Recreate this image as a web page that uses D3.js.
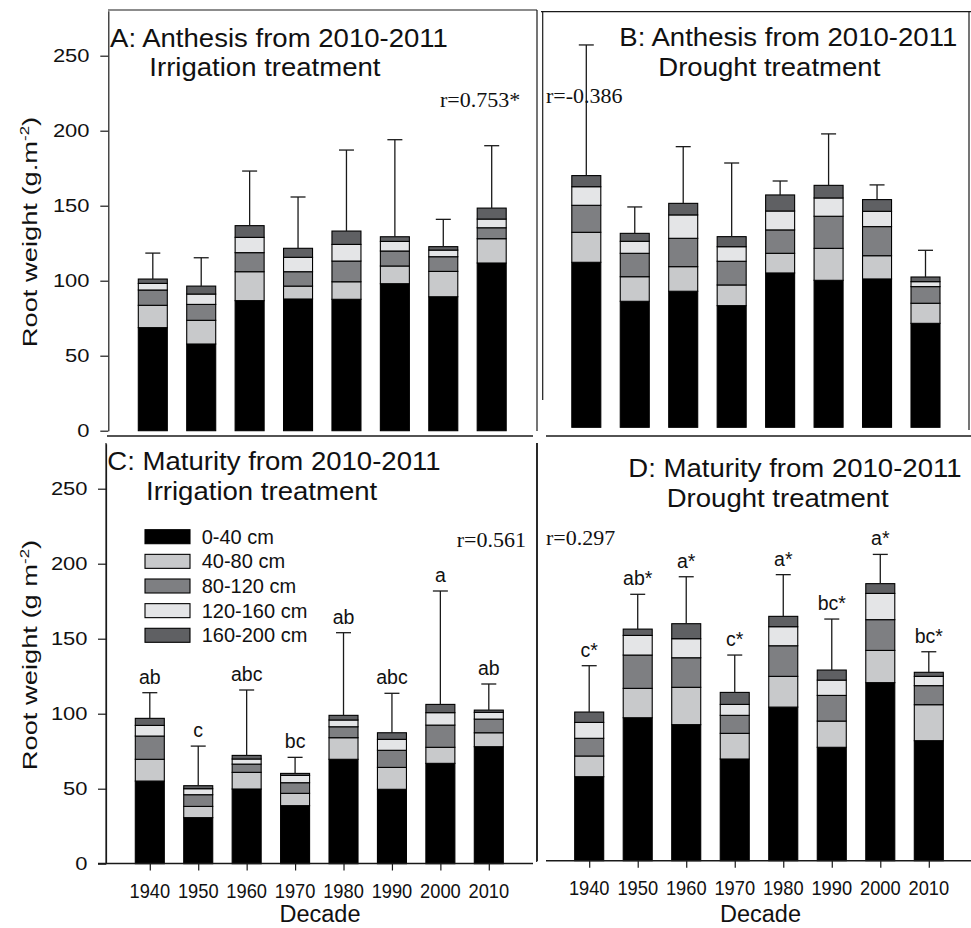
<!DOCTYPE html>
<html>
<head>
<meta charset="utf-8">
<script src="https://cdn.jsdelivr.net/npm/d3@7/dist/d3.min.js"></script>
<style>
  body { margin: 0; background: #ffffff; }
  svg { display: block; }
</style>
</head>
<body>
<svg id="chart" width="971" height="928"></svg>
<script>
// ---- data -------------------------------------------------------------
const decades = ["1940", "1950", "1960", "1970", "1980", "1990", "2000", "2010"];
const depthLayers = ["0-40 cm", "40-80 cm", "80-120 cm", "120-160 cm", "160-200 cm"];
const yTicks = [0, 50, 100, 150, 200, 250];

// Root weight (g m-2) per soil layer, one row per decade (0-40 ... 160-200 cm)
const anthesisIrrigation = [
  [68.7, 14.9, 10.2, 4.4, 2.9],
  [57.8, 15.8, 10.6, 6.9, 5.3],
  [86.7, 19.3, 12.7, 10.2, 7.8],
  [87.8, 8.6, 9.6, 9.6, 6.0],
  [87.6, 11.7, 13.8, 11.1, 8.9],
  [98.0, 11.8, 10.0, 6.4, 3.1],
  [89.3, 16.9, 9.8, 4.4, 2.3],
  [111.8, 16.2, 7.3, 5.8, 7.3]
];
const anthesisIrrigationErr = [17.3, 18.9, 36.4, 34.2, 54.0, 64.7, 18.2, 41.6];

const anthesisDrought = [
  [110.0, 20.0, 18.0, 12.4, 7.4],
  [84.0, 16.4, 15.6, 8.0, 5.3],
  [90.7, 16.4, 18.9, 15.6, 7.7],
  [81.1, 13.8, 15.8, 9.7, 6.7],
  [102.9, 13.1, 15.6, 12.6, 10.7],
  [98.0, 21.3, 21.4, 12.2, 8.4],
  [98.9, 15.5, 19.4, 10.2, 7.8],
  [69.3, 13.4, 11.1, 3.3, 3.1]
];
const anthesisDroughtErr = [87.1, 17.6, 37.8, 49.1, 9.3, 34.3, 9.8, 17.8];

const maturityIrrigation = [
  [55.1, 14.5, 15.5, 7.1, 4.7],
  [30.7, 7.5, 7.8, 4.0, 2.0],
  [49.8, 11.1, 5.5, 3.4, 2.4],
  [38.7, 8.2, 7.1, 4.9, 1.3],
  [69.6, 14.4, 7.3, 4.5, 3.1],
  [49.6, 14.6, 11.4, 7.3, 4.4],
  [66.9, 10.7, 14.8, 8.3, 5.5],
  [78.0, 9.3, 9.1, 4.5, 1.5]
];
const maturityIrrigationErr = [17.1, 26.4, 43.6, 10.7, 55.1, 26.3, 75.6, 17.4];
const maturityIrrigationLetters = ["ab", "c", "abc", "bc", "ab", "abc", "a", "ab"];

const maturityDrought = [
  [56.0, 13.8, 11.8, 10.6, 6.9],
  [95.3, 19.6, 22.2, 13.1, 4.2],
  [90.7, 24.9, 19.7, 12.7, 10.0],
  [67.8, 17.1, 12.0, 7.3, 8.0],
  [102.4, 20.5, 20.4, 12.7, 6.9],
  [75.6, 17.5, 17.1, 10.2, 6.7],
  [118.7, 21.5, 20.5, 17.5, 6.5],
  [80.0, 24.0, 12.7, 6.2, 2.7]
];
const maturityDroughtErr = [30.9, 23.2, 31.3, 24.9, 27.8, 34.0, 19.5, 13.7];
const maturityDroughtLetters = ["c*", "ab*", "a*", "c*", "a*", "bc*", "a*", "bc*"];

// ---- styling ----------------------------------------------------------
const layerFills = ["#000000", "#c8c9cb", "#7e7f82", "#e4e5e7", "#5f6063"];
const SANS = "'Liberation Sans', Arial, Helvetica, sans-serif";
const SERIF = "'Liberation Serif', 'Times New Roman', serif";
const INK = "#111111";
const BAR_W = 29;

const svg = d3.select("#chart");

function drawText(g, x, y, str, o = {}) {
  return g.append("text")
    .attr("transform", `translate(${x},${y}) scale(${o.sx || 1},1)`)
    .attr("text-anchor", o.anchor || "start")
    .style("font-family", o.family || SANS)
    .style("font-size", (o.size || 20) + "px")
    .style("fill", INK)
    .text(str);
}

function line(g, x1, y1, x2, y2, w = 1.2) {
  g.append("line")
    .attr("x1", x1).attr("y1", y1).attr("x2", x2).attr("y2", y2)
    .attr("stroke", "#1a1a1a").attr("stroke-width", w);
}

// Stacked bars with error bars (and optional significance letters)
function drawPanel(p) {
  const g = svg.append("g");
  const x = d3.scalePoint().domain(decades).range(p.xRange);
  const y = d3.scaleLinear().domain([0, 280]).range([p.y0, p.y0 - 420]);
  const stack = d3.stack().keys(d3.range(depthLayers.length));
  const series = stack(p.rows);

  g.selectAll("g.layer").data(series).join("g")
    .attr("class", "layer")
    .attr("fill", (d, i) => layerFills[i])
    .selectAll("rect").data(d => d.map((s, j) => ({ s, j }))).join("rect")
    .attr("x", d => x(decades[d.j]) - BAR_W / 2)
    .attr("width", BAR_W)
    .attr("y", d => y(d.s[1]))
    .attr("height", d => y(d.s[0]) - y(d.s[1]))
    .attr("stroke", "#000").attr("stroke-width", 1.1);

  const totals = p.rows.map(r => d3.sum(r));
  decades.forEach((dec, j) => {
    const cx = x(dec);
    const top = y(totals[j] + p.err[j]);
    line(g, cx, y(totals[j]), cx, top, 1.3);
    line(g, cx - 7.5, top, cx + 7.5, top, 1.3);
    if (p.letters) {
      drawText(g, cx, top - 9, p.letters[j], { anchor: "middle", size: 19.5 });
    }
  });
  return { g, x, y };
}

function drawYAxis(g, y, axisX, labelRight) {
  const ax = g.append("g").attr("transform", `translate(${axisX},0)`)
    .call(d3.axisLeft(y).tickValues(yTicks).tickSize(8).tickSizeOuter(0).tickFormat(""));
  ax.select(".domain").attr("stroke", "#1a1a1a").attr("stroke-width", 1.2);
  ax.selectAll(".tick line").attr("stroke", "#1a1a1a").attr("stroke-width", 1.2);
  yTicks.forEach(v => {
    drawText(g, labelRight, y(v) + 6.3, String(v), { anchor: "end", size: 18, sx: 1.22 });
  });
}

function drawXAxis(g, x, axisY, lineFrom, lineTo, labelY, titleX) {
  line(g, lineFrom, axisY, lineTo, axisY, 1.4);
  const ax = g.append("g").attr("transform", `translate(0,${axisY})`)
    .call(d3.axisBottom(x).tickSize(7).tickSizeOuter(0).tickFormat(""));
  ax.select(".domain").remove();
  ax.selectAll(".tick line").attr("stroke", "#1a1a1a").attr("stroke-width", 1.2);
  decades.forEach(dec => {
    drawText(g, x(dec), labelY, dec, { anchor: "middle", size: 21, sx: 0.87 });
  });
  drawText(g, titleX, 922, "Decade", { anchor: "middle", size: 23.5 });
}

function drawYTitle(cx, cy, dotted) {
  const t = svg.append("text")
    .attr("transform", `translate(${cx},${cy}) rotate(-90) scale(1.3,1)`)
    .attr("text-anchor", "middle")
    .style("font-family", SANS).style("font-size", "21px").style("fill", INK);
  t.append("tspan").text(dotted ? "Root weight (g.m" : "Root weight (g m");
  t.append("tspan").attr("dy", -8).style("font-size", "13px").text("-2");
  t.append("tspan").attr("dy", 8).text(")");
}

// ---- A: anthesis, irrigation -----------------------------------------
const A = drawPanel({ rows: anthesisIrrigation, err: anthesisIrrigationErr,
  xRange: [152.8, 491.7], y0: 430.7 });
drawYAxis(A.g, A.y, 108.3, 89.5);
line(A.g, 108, 10, 537, 10);
line(A.g, 537, 10, 537, 431);
line(A.g, 107, 436, 533, 436, 1.4);
drawText(A.g, 110, 46.7, "A: Anthesis from 2010-2011", { size: 26, sx: 1.06 });
drawText(A.g, 149.3, 76, "Irrigation treatment", { size: 26, sx: 1.06 });
drawText(A.g, 440, 106.7, "r=0.753*", { family: SERIF, size: 22 });

// ---- B: anthesis, drought --------------------------------------------
const B = drawPanel({ rows: anthesisDrought, err: anthesisDroughtErr,
  xRange: [586.3, 925.5], y0: 427.3 });
line(B.g, 541, 11.7, 971, 11.7);
line(B.g, 542.7, 11.7, 542.7, 400);
line(B.g, 969, 11.7, 969, 430);
line(B.g, 546, 436, 971, 436, 1.4);
drawText(B.g, 619.3, 46, "B: Anthesis from 2010-2011", { size: 26, sx: 1.06 });
drawText(B.g, 658.3, 76, "Drought treatment", { size: 26, sx: 1.06 });
drawText(B.g, 546, 103.3, "r=-0.386", { family: SERIF, size: 22 });

// ---- C: maturity, irrigation -----------------------------------------
const C = drawPanel({ rows: maturityIrrigation, err: maturityIrrigationErr,
  letters: maturityIrrigationLetters, xRange: [149.8, 488.8], y0: 863.7 });
drawYAxis(C.g, C.y, 106, 87.5);
line(C.g, 106, 443, 106, 864);
line(C.g, 536.7, 443, 536.7, 862);
drawXAxis(C.g, C.x, 863.5, 98, 533, 898.3, 320);
drawText(C.g, 107.3, 470, "C: Maturity from 2010-2011", { size: 26, sx: 1.06 });
drawText(C.g, 146, 500, "Irrigation treatment", { size: 26, sx: 1.06 });
drawText(C.g, 456.7, 546.7, "r=0.561", { family: SERIF, size: 22 });

// legend of soil layers
const legend = C.g.append("g");
depthLayers.forEach((name, i) => {
  const cy = 536.7 + i * 24.65;
  legend.append("rect")
    .attr("x", 145).attr("y", cy - 7).attr("width", 45).attr("height", 14)
    .attr("fill", layerFills[i]).attr("stroke", "#000").attr("stroke-width", 1.1);
  drawText(legend, 201.7, cy + 7, name, { size: 20 });
});

// ---- D: maturity, drought --------------------------------------------
const D = drawPanel({ rows: maturityDrought, err: maturityDroughtErr,
  letters: maturityDroughtLetters, xRange: [589.2, 928.8], y0: 860.7 });
line(D.g, 537.3, 443, 537.3, 861);
drawXAxis(D.g, D.x, 860.7, 546, 971, 895, 760.5);
drawText(D.g, 628.3, 476.7, "D: Maturity from 2010-2011", { size: 26, sx: 1.06 });
drawText(D.g, 666.7, 506.7, "Drought treatment", { size: 26, sx: 1.06 });
drawText(D.g, 546, 545, "r=0.297", { family: SERIF, size: 22 });

// ---- shared y titles ----------------------------------------------------
drawYTitle(37, 232, true);
drawYTitle(37, 655, false);
</script>
</body>
</html>
